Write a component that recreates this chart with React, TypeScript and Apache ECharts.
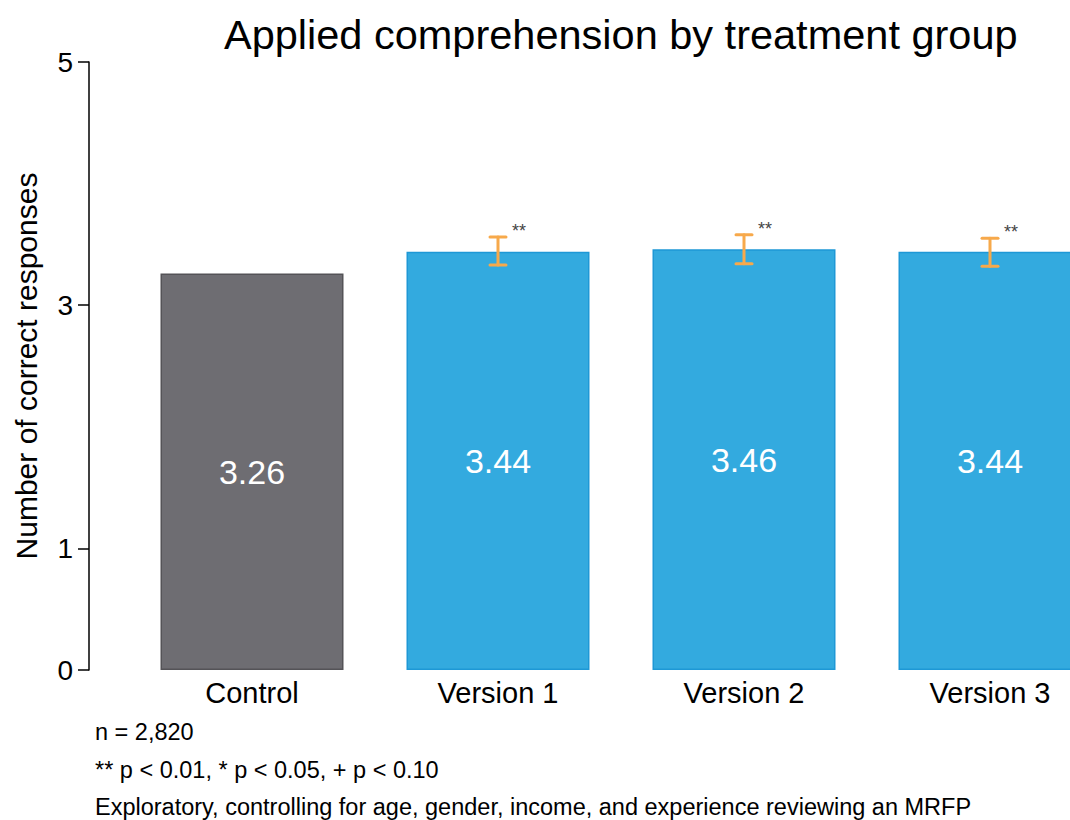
import React, { useEffect, useRef } from "react";
import * as echarts from "echarts";

const categories = ["Control", "Version 1", "Version 2", "Version 3"];
const means = [3.26, 3.44, 3.46, 3.44];
const ciLow = [null, 3.33, 3.34, 3.32];
const ciHigh = [null, 3.56, 3.58, 3.55];
const sigMarks = ["", "**", "**", "**"];
const yTicks = [0, 1, 3, 5];
const notes = [
  "n = 2,820",
  "** p < 0.01, * p < 0.05, + p < 0.10",
  "Exploratory, controlling for age, gender, income, and experience reviewing an MRFP",
];

const FONT = "Liberation Sans, Arial, Helvetica, sans-serif";

export default function App() {
  const ref = useRef<HTMLDivElement>(null);
  useEffect(() => {
    if (!ref.current) return;
    const chart = echarts.init(ref.current, null, { renderer: "svg" });
    const barData = means.map((v, i) => ({
      value: v,
      itemStyle:
        i === 0
          ? { color: "#6E6D72", borderColor: "#545357", borderWidth: 1.5 }
          : { color: "#33AADF", borderColor: "#1E98D6", borderWidth: 1.5 },
    }));
    const errData = categories
      .map((_, i) => [i, ciLow[i], ciHigh[i], sigMarks[i]])
      .filter((d) => d[1] != null);
    chart.setOption({
      animation: false,
      textStyle: { fontFamily: FONT },
      title: {
        text: "Applied comprehension by treatment group",
        left: 219,
        top: 8,
        textStyle: { fontSize: 41.5, fontWeight: "normal", color: "#000", fontFamily: FONT },
      },
      grid: { left: 129, right: 0, top: 62, bottom: 150, containLabel: false },
      xAxis: {
        type: "category",
        data: categories,
        axisLine: { show: false },
        axisTick: { show: false },
        axisLabel: { fontSize: 29, color: "#000", margin: 8, fontFamily: FONT },
      },
      yAxis: {
        type: "value",
        min: 0,
        max: 5,
        interval: 1,
        offset: 40,
        name: "Number of correct responses",
        nameLocation: "middle",
        nameRotate: 90,
        nameGap: 48,
        nameTextStyle: { fontSize: 30, color: "#000", fontFamily: FONT },
        axisLine: { show: true, lineStyle: { color: "#000", width: 1.5 } },
        axisTick: {
          show: true,
          length: 11,
          customValues: yTicks,
          lineStyle: { color: "#000", width: 1.5 },
        },
        axisLabel: {
          customValues: yTicks,
          fontSize: 28,
          color: "#000",
          margin: 16,
          fontFamily: FONT,
        },
        splitLine: { show: false },
      },
      series: [
        {
          type: "bar",
          data: barData,
          barWidth: 183,
          label: {
            show: true,
            position: "inside",
            color: "#fff",
            fontSize: 34,
            fontFamily: FONT,
            formatter: (p: any) => p.value.toFixed(2),
          },
        },
        {
          type: "custom",
          data: errData,
          z: 10,
          renderItem: (params: any, api: any) => {
            const idx = api.value(0);
            const lo = api.coord([idx, api.value(1)]);
            const hi = api.coord([idx, api.value(2)]);
            const hw = 8;
            const style = { stroke: "#F7A94B", lineWidth: 3, lineCap: "round" };
            return {
              type: "group",
              children: [
                { type: "line", shape: { x1: lo[0], y1: lo[1], x2: hi[0], y2: hi[1] }, style },
                { type: "line", shape: { x1: lo[0] - hw, y1: lo[1], x2: lo[0] + hw, y2: lo[1] }, style },
                { type: "line", shape: { x1: hi[0] - hw, y1: hi[1], x2: hi[0] + hw, y2: hi[1] }, style },
                {
                  type: "text",
                  x: hi[0] + 14,
                  y: hi[1] - 15,
                  style: {
                    text: errData[params.dataIndex][3],
                    fill: "#444",
                    fontSize: 18,
                    fontFamily: FONT,
                  },
                },
              ],
            };
          },
        },
      ],
      graphic: notes.map((t, i) => ({
        type: "text",
        left: 95,
        top: [720, 758, 795][i],
        style: { text: t, fontSize: 23.5, fill: "#000", fontFamily: FONT },
      })),
    });
    return () => chart.dispose();
  }, []);
  return (
    <div
      style={{
        position: "fixed",
        left: 0,
        top: 0,
        width: 1070,
        height: 820,
        overflow: "hidden",
        background: "#fff",
      }}
    >
      <div ref={ref} style={{ width: 1113, height: 820 }} />
    </div>
  );
}
